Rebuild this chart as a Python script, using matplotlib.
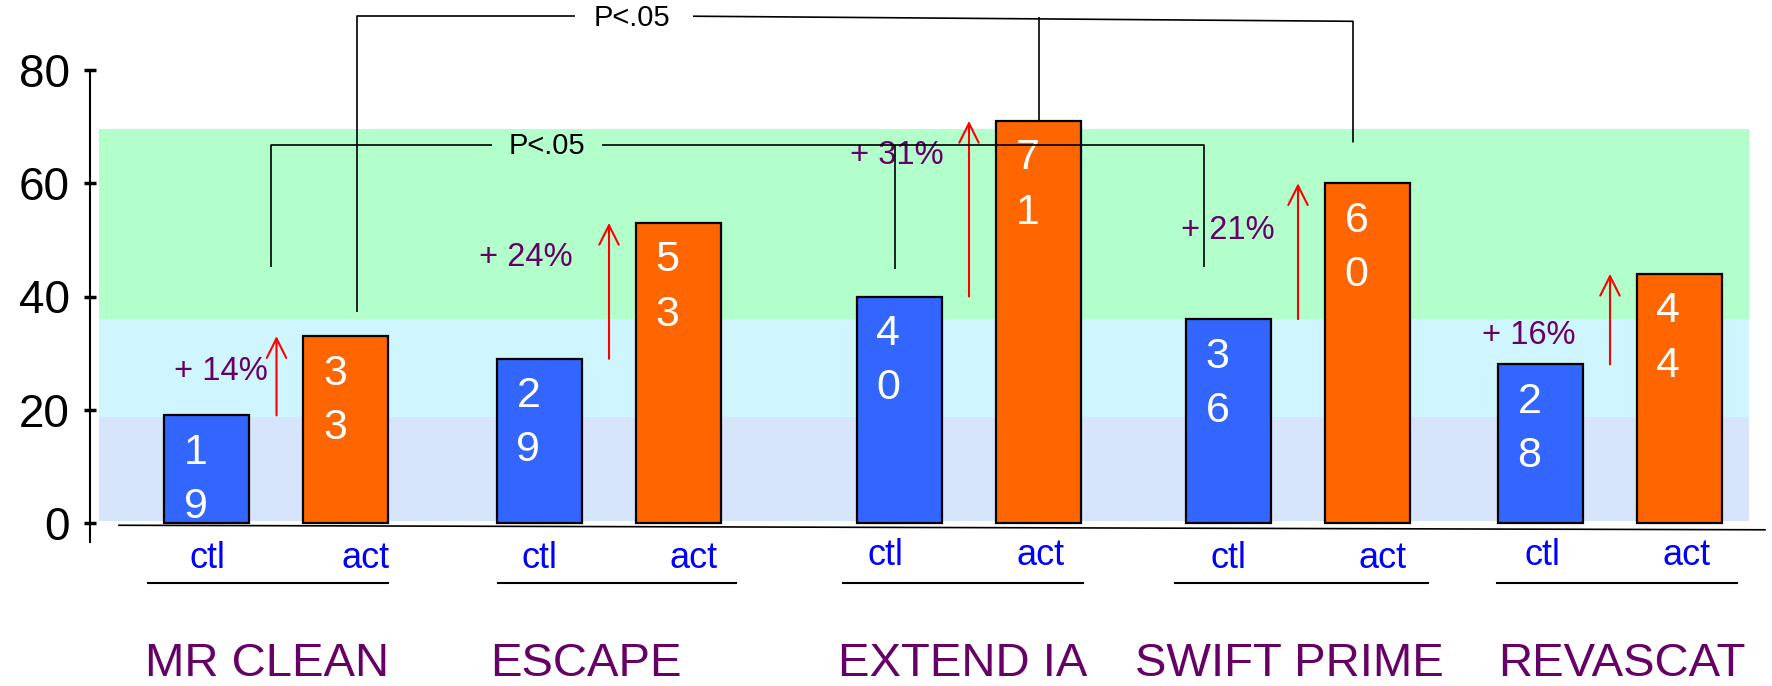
import matplotlib
matplotlib.use("Agg")
import matplotlib.pyplot as plt
from matplotlib.patches import Rectangle

# ---- data -------------------------------------------------------------
trials = ["MR CLEAN", "ESCAPE", "EXTEND IA", "SWIFT PRIME", "REVASCAT"]
ctl_values = [19, 29, 40, 36, 28]
act_values = [33, 53, 71, 60, 44]
gain_pct = [14, 24, 31, 21, 16]
arm_labels = ["ctl", "act"]
y_ticks = [0, 20, 40, 60, 80]
p_label = "P<.05"

# ---- layout (x in pixels of the canvas, y in data units) --------------
W, H, DPI = 1772, 686, 100
Y0_PX, PX_PER_UNIT = 523.0, 5.6625          # where 0 sits, and scale
AXIS_X = 90
group_x = [276.5, 609, 969, 1298, 1610]
arm_offset = 69.5
bar_w = 85
trial_label_x = [267, 586, 963, 1289, 1622]
arm_label_dx = [(0, 20), (0, 15), (-14, 2), (0, 15), (2, 7)]
arm_label_y = [-8.0, -8.0, -7.4, -8.0, -7.4]
underline_x = [(148, 388), (498, 736), (843, 1083), (1175, 1428), (1497, 1737)]
gain_label_x = [268, 573, 944, 1275, 1576]
gain_label_y = [26.7, 46.9, 64.9, 51.7, 33.1]
bands = [(0.4, 18.8, "#D6E4FC"), (18.8, 36.0, "#CFF5FE"), (36.0, 69.6, "#B3FFCC")]
band_x = (99, 1749)

BLUE, ORANGE = "#3366FF", "#FF6600"
PURPLE, LABEL_BLUE = "#660066", "#0000FF"
FONT = "Liberation Sans"

plt.rcParams["font.family"] = [FONT, "DejaVu Sans"]

fig = plt.figure(figsize=(W / DPI, H / DPI), dpi=DPI)
ax = fig.add_axes([AXIS_X / W, 0, 1 - AXIS_X / W, 1])
ax.set_xlim(AXIS_X, W)
ax.set_ylim(-(H - Y0_PX) / PX_PER_UNIT, Y0_PX / PX_PER_UNIT)

# background bands
for lo, hi, c in bands:
    ax.add_patch(Rectangle((band_x[0], lo), band_x[1] - band_x[0], hi - lo,
                           facecolor=c, edgecolor="none", zorder=0))

# baseline
ax.plot([119, 1765], [-0.4, -1.2], color="black", lw=1.2, zorder=2)

# bars
ctl_x = [g - arm_offset for g in group_x]
act_x = [g + arm_offset for g in group_x]
ax.bar(ctl_x, ctl_values, width=bar_w, color=BLUE, edgecolor="black",
       linewidth=1.6, zorder=3)
ax.bar(act_x, act_values, width=bar_w, color=ORANGE, edgecolor="black",
       linewidth=1.6, zorder=3)

# stacked digit labels inside the bars
for xs, vals in ((ctl_x, ctl_values), (act_x, act_values)):
    for x, v in zip(xs, vals):
        for i, d in enumerate(str(v)):
            ax.annotate(d, xy=(x, v), xytext=(-8, -27 - i * 39),
                        textcoords="offset points", ha="center", va="center",
                        color="white", fontsize=31, zorder=4)

# arrows from control to active value, with the gain label
for i, g in enumerate(group_x):
    ax.annotate("", xy=(g, act_values[i]), xytext=(g, ctl_values[i]),
                arrowprops=dict(arrowstyle="->,head_length=1.4,head_width=0.7",
                                color="red", lw=1.5, shrinkA=0, shrinkB=0),
                zorder=4)
    ax.text(gain_label_x[i], gain_label_y[i], f"+ {gain_pct[i]}%",
            ha="right", va="center", color=PURPLE, fontsize=23.5, zorder=5)

# arm labels, underlines and trial names
for i, g in enumerate(group_x):
    dx_c, dx_a = arm_label_dx[i]
    ax.text(ctl_x[i] + dx_c, arm_label_y[i], arm_labels[0], ha="center",
            va="baseline", color=LABEL_BLUE, fontsize=26)
    ax.text(act_x[i] + dx_a, arm_label_y[i], arm_labels[1], ha="center",
            va="baseline", color=LABEL_BLUE, fontsize=26)
    x0, x1 = underline_x[i]
    ax.plot([x0, x1], [-10.6, -10.6], color="black", lw=1.5)
    ax.text(trial_label_x[i], -27.0, trials[i], ha="center", va="baseline",
            color=PURPLE, fontsize=34)

# significance brackets
bk = dict(color="black", lw=1.2, zorder=6, solid_capstyle="butt")
# active arms bracket
ax.plot([357, 357, 575], [37.3, 89.6, 89.6], **bk)
ax.plot([693, 1353, 1353], [89.5, 88.6, 67.2], **bk)
ax.plot([1039, 1039], [89.3, act_values[2]], **bk)
ax.text(632, 89.2, p_label, ha="center", va="center", fontsize=21, zorder=6)
# control arms bracket
ax.plot([271, 271, 492], [45.2, 66.7, 66.7], **bk)
ax.plot([602, 1204, 1204], [66.7, 66.7, 45.2], **bk)
ax.plot([895, 895], [66.7, 44.8], **bk)
ax.text(547, 66.6, p_label, ha="center", va="center", fontsize=21, zorder=6)

# y axis
for s in ("top", "right", "bottom"):
    ax.spines[s].set_visible(False)
ax.spines["left"].set_bounds(-3.4, 80)
ax.spines["left"].set_linewidth(1.5)
ax.set_yticks(y_ticks)
ax.set_xticks([])
ax.tick_params(axis="y", direction="inout", length=9, width=2.5,
               labelsize=33, pad=10)
ax.patch.set_alpha(0)

fig.savefig("out.png", dpi=DPI)
